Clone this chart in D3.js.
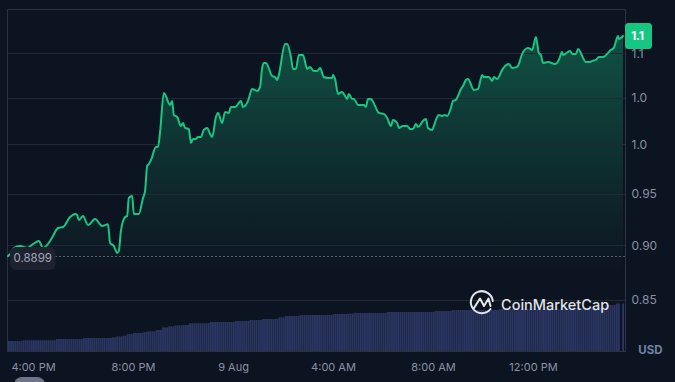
<!DOCTYPE html>
<html><head><meta charset="utf-8">
<script src="https://cdn.jsdelivr.net/npm/d3@7/dist/d3.min.js"></script>
<style>
html,body{margin:0;padding:0;background:#0d1421;overflow:hidden}
svg{display:block}
text{font-family:Inter,"Noto Sans",sans-serif}
</style></head><body>
<svg id="c" width="675" height="382"></svg>
<script>
// minutes elapsed since 8 Aug 15:00
const minutes = [0,5,14,29,46,60,74,84,101,108,120,132,149,161,166,170,180,192,209,226,240,245,254,262,266,271,281,286,290,298,302,314,324,329,334,338,346,348,355,360,365,374,389,394,398,406,415,420,425,434,439,444,451,456,463,470,478,485,490,499,504,514,521,530,535,545,559,564,571,576,586,598,605,610,614,619,634,641,646,650,665,670,679,684,691,698,708,718,725,734,742,749,758,768,778,780,785,792,802,806,814,818,826,830,840,854,859,864,871,881,890,902,910,919,924,934,938,948,958,965,972,979,984,991,994,1003,1008,1018,1022,1030,1034,1042,1049,1054,1063,1068,1075,1080,1087,1092,1099,1104,1118,1128,1138,1142,1154,1162,1166,1174,1186,1193,1202,1210,1222,1226,1234,1248,1258,1267,1274,1279,1284,1296,1313,1322,1330,1332,1349,1354,1363,1368,1387,1397,1402,1411,1418,1428,1447,1454,1464,1466,1476];
const prices = [.8899,.8918,.8975,.8994,.8975,.9012,.9041,.8975,.9041,.9088,.9164,.9174,.927,.93,.929,.924,.928,.9193,.925,.9183,.92,.9022,.8994,.8928,.8947,.9136,.927,.928,.9456,.9476,.93,.93,.9456,.9526,.9778,.9798,.987,.9901,.9974,.9974,1.0132,1.0553,1.0422,1.0465,1.0313,1.0291,1.0195,1.0227,1.0174,1.0163,1.0016,1.0058,1.0058,1.0079,1.0079,1.0153,1.0174,1.0111,1.0079,1.0291,1.0335,1.0227,1.0346,1.0335,1.04,1.04,1.0465,1.04,1.0422,1.0465,1.0597,1.0575,1.062,1.0832,1.0889,1.0889,1.0742,1.073,1.0697,1.0753,1.1107,1.1107,1.0957,1.0821,1.0821,1.098,1.098,1.0821,1.0844,1.0798,1.0798,1.0832,1.073,1.072,1.072,1.0753,1.0708,1.0542,1.0564,1.0542,1.0487,1.0542,1.0487,1.0487,1.0422,1.0422,1.04,1.0487,1.0487,1.041,1.0335,1.0324,1.0281,1.0195,1.0259,1.0227,1.0174,1.0195,1.0195,1.0163,1.0163,1.0216,1.0185,1.0216,1.0238,1.027,1.0174,1.0153,1.0195,1.0291,1.0313,1.0302,1.0313,1.0302,1.0389,1.0465,1.0476,1.052,1.0597,1.063,1.0697,1.0708,1.0586,1.0597,1.0753,1.073,1.073,1.0686,1.073,1.0708,1.081,1.0855,1.0877,1.0832,1.0844,1.0877,1.0992,1.1061,1.1038,1.1189,1.1003,1.098,1.0889,1.09,1.0877,1.0923,1.1015,1.098,1.1026,1.0992,1.0992,1.105,1.09,1.09,1.0912,1.0923,1.0957,1.0957,1.1038,1.1061,1.12,1.1166,1.12];

// stepped volume histogram: how many consecutive bars share each level
const volumeCounts = [7,16,13,14,2,3,2,3,5,2,4,3,3,3,4,3,9,1,12,7,6,8,3,7,16,7,3,16,23,8,23,32,19,5,2,1,1];
const volumeLevels = [10,10.7,12,13,13.7,14.5,15.3,17,18,19,19.7,21,23.7,24.7,25.7,26,27.7,28,29,30,31,32,33.7,35,36,37,37.3,38,39,40,41,42,43,46,47.5,0,47.5];

const priceTicks = [0.85,0.90,0.95,1.0,1.05,1.1];
const priceTickLabels = ["0.85","0.90","0.95","1.0","1.0","1.1"];
const timeTickMinutes = [60,300,540,780,1020,1260];
const timeTickLabels = ["4:00 PM","8:00 PM","9 Aug","4:00 AM","8:00 AM","12:00 PM"];
const basePrice = 0.8899, basePriceLabel = "0.8899";
const lastPriceLabel = "1.1";
const priceDomain = [0.8055,1.1514];
const currency = "USD", brand = "CoinMarketCap";

const start = Date.UTC(2024,7,8,15,0);
const toDate = m => new Date(start + m*60000);
const frame = {left:7.5,right:625.5,top:9.5,bottom:351.5};

const x = d3.scaleUtc().domain([toDate(0),toDate(1476)]).range([8,623]);
const y = d3.scaleLog().domain(priceDomain).range([frame.bottom,frame.top]);
const vy = d3.scaleLinear().domain([0,48]).range([351,303]);

const volumes = volumeCounts.flatMap((c,i)=>d3.range(c).map(()=>volumeLevels[i]));
const vx = d3.scaleBand().domain(d3.range(volumes.length)).range([8,624]).paddingInner(0.08);

const pts = minutes.map((m,i)=>({t:toDate(m),p:prices[i]}));
const svg = d3.select("#c");

const defs = svg.append("defs");
const grad = defs.append("linearGradient").attr("id","ag").attr("gradientUnits","userSpaceOnUse")
  .attr("x1",0).attr("x2",0).attr("y1",y(1.12)).attr("y2",y(0.875));
grad.append("stop").attr("offset",0).attr("stop-color","#16c784").attr("stop-opacity",.34);
grad.append("stop").attr("offset",.55).attr("stop-color","#16c784").attr("stop-opacity",.14);
grad.append("stop").attr("offset",1).attr("stop-color","#16c784").attr("stop-opacity",0);

// area
const curve = d3.curveMonotoneX;
svg.append("path").datum(pts).attr("fill","url(#ag)")
  .attr("d",d3.area().curve(curve).x(d=>x(d.t)).y0(y(0.875)).y1(d=>y(d.p)));

// grid
svg.append("g").selectAll("line").data(priceTicks).join("line")
  .attr("x1",frame.left).attr("x2",frame.right)
  .attr("y1",d=>Math.round(y(d))+.5).attr("y2",d=>Math.round(y(d))+.5)
  .attr("stroke","#222935").attr("stroke-width",1);

// volume
svg.append("g").selectAll("rect").data(volumes).join("rect")
  .attr("x",(d,i)=>vx(i)).attr("width",vx.bandwidth())
  .attr("y",d=>vy(d)).attr("height",d=>vy(0)-vy(d))
  .attr("fill","#2a3560");

// frame
svg.append("rect").attr("x",frame.left).attr("y",frame.top)
  .attr("width",frame.right-frame.left).attr("height",frame.bottom-frame.top)
  .attr("fill","none").attr("stroke","#2b313e");

// baseline
svg.append("line").attr("x1",frame.left).attr("x2",frame.right)
  .attr("y1",Math.round(y(basePrice))+.5).attr("y2",Math.round(y(basePrice))+.5)
  .attr("stroke","#a1a7bb").attr("stroke-dasharray","1 3");

// price line
svg.append("path").datum(pts).attr("fill","none").attr("stroke","#16c784")
  .attr("stroke-width",2).attr("stroke-linejoin","round").attr("stroke-linecap","round")
  .attr("d",d3.line().curve(curve).x(d=>x(d.t)).y(d=>y(d.p)));

// axes
const yAxis = svg.append("g").attr("transform",`translate(${frame.right},0)`)
  .call(d3.axisRight(y).tickValues(priceTicks).tickSize(0).tickPadding(6)
    .tickFormat((d,i)=>priceTickLabels[i]));
yAxis.select(".domain").remove();
yAxis.selectAll("text").attr("fill","#8a91a5").style("font-size","12px").style("font-family","Inter,sans-serif");

const xAxis = svg.append("g").attr("transform","translate(0,360)")
  .call(d3.axisBottom(x).tickValues(timeTickMinutes.map(toDate)).tickSize(0).tickPadding(3)
    .tickFormat((d,i)=>timeTickLabels[i]));
xAxis.select(".domain").remove();
xAxis.selectAll("text").attr("fill","#8a91a5").style("font-size","11px").style("font-family","Inter,sans-serif");

// base label
svg.append("rect").attr("x",10).attr("y",247).attr("width",45.5).attr("height",23).attr("rx",6).attr("fill","#1e222e");
svg.append("text").attr("x",32.75).attr("y",258).attr("text-anchor","middle").attr("dominant-baseline","central")
  .attr("fill","#a1a7bb").style("font-size","11.5px").text(basePriceLabel);

// last price badge
svg.append("rect").attr("x",625).attr("y",23).attr("width",27).attr("height",26).attr("rx",3.5).attr("fill","#16c784");
svg.append("text").attr("x",637.5).attr("y",36).attr("text-anchor","middle").attr("dominant-baseline","central")
  .attr("fill","#fff").style("font-size","11.5px").style("font-weight",700).text(lastPriceLabel);

// currency
svg.append("text").attr("x",650.5).attr("y",349.5).attr("text-anchor","middle").attr("dominant-baseline","central")
  .attr("fill","#6f83a8").style("font-size","11.5px").style("font-weight",700).text(currency);

// logo
const logo = svg.append("g").attr("fill","none").attr("stroke","#e6e8ee").attr("stroke-width",2).attr("stroke-linecap","round").attr("stroke-linejoin","round");
logo.append("path").attr("d","M490.5 309 A11 11 0 1 1 492.8 301");
logo.append("path").attr("d","M474 308 L480 298.5 L484 306 L488.5 298.5 L490.5 306");
svg.append("text").attr("x",501).attr("y",304).attr("dominant-baseline","central")
  .attr("fill","#e2e4ea").style("font-size","14.5px").style("font-weight",500).text(brand);

// bottom pill
svg.append("rect").attr("x",14).attr("y",377).attr("width",31).attr("height",16).attr("rx",8).attr("fill","#6e7587");
</script>
</body></html>
